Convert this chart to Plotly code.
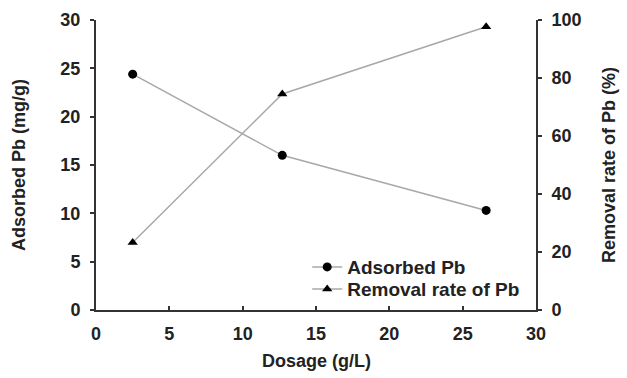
import plotly.graph_objects as go

dosage = [2.5, 12.7, 26.6]
adsorbed = [24.4, 16.0, 10.3]
removal = [23.3, 74.5, 97.7]

FONT = "Liberation Sans, Arial, sans-serif"
TXT = "#222222"
fig = go.Figure()
fig.add_trace(go.Scatter(x=dosage, y=adsorbed, name="<b>Adsorbed Pb</b>", mode="lines+markers",
                         line=dict(color="#a8a8a8", width=1.5),
                         marker=dict(symbol="circle", size=9, color="black"), legend="legend"))
fig.add_trace(go.Scatter(x=dosage, y=removal, name="<b>Removal rate of Pb</b>", mode="lines+markers",
                         yaxis="y2", line=dict(color="#a8a8a8", width=1.5),
                         marker=dict(symbol="triangle-up", size=9, color="black"), legend="legend2"))

axis_common = dict(showgrid=False, zeroline=False, showline=True, linecolor="#333333", linewidth=2,
                   tickfont=dict(family=FONT, size=18, color=TXT), ticklen=4, tickwidth=2,
                   tickcolor="#333333", tickprefix="<b>", ticksuffix="</b>")
title_font = dict(family=FONT, size=18, color=TXT)
leg_common = dict(xanchor="left", yanchor="middle", bgcolor="rgba(0,0,0,0)",
                  font=dict(family=FONT, size=19, color=TXT), itemwidth=30)
fig.update_layout(
    width=627, height=378,
    margin=dict(l=96, r=91, t=20, b=68, autoexpand=False),
    plot_bgcolor="white", paper_bgcolor="white",
    font=dict(family=FONT, color=TXT),
    xaxis=dict(range=[0, 30], dtick=5, ticks="inside", ticklabelstandoff=6,
               **axis_common),
    yaxis=dict(range=[0, 30], dtick=5, ticks="outside", ticklabelstandoff=6,
               title=dict(text="<b>Adsorbed Pb (mg/g)</b>", font=title_font, standoff=30),
               **axis_common),
    yaxis2=dict(range=[0, 100], dtick=20, ticks="outside", overlaying="y", side="right",
                ticklabelstandoff=6,
                title=dict(text="<b>Removal rate of Pb (%)</b>", font=title_font, standoff=22),
                **axis_common),
    legend=dict(x=0.48, y=0.148, **leg_common),
    legend2=dict(x=0.48, y=0.072, **leg_common),
    showlegend=True,
    annotations=[dict(text="<b>Dosage (g/L)</b>", xref="paper", yref="paper", x=0.5,
                      y=-51 / 290, xanchor="center", yanchor="middle", showarrow=False,
                      font=title_font)],
)
fig.write_html("out.html")
